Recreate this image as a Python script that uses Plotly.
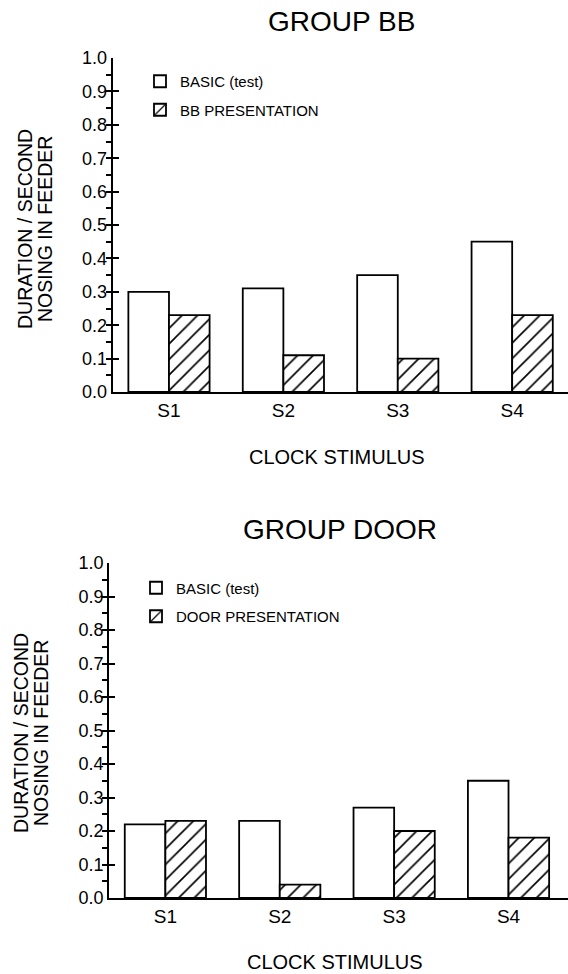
import plotly.graph_objects as go

categories = ["S1", "S2", "S3", "S4"]
bb_basic = [0.30, 0.31, 0.35, 0.45]
bb_presentation = [0.23, 0.11, 0.10, 0.23]
door_basic = [0.22, 0.23, 0.27, 0.35]
door_presentation = [0.23, 0.04, 0.20, 0.18]
y_ticks = [0.0, 0.1, 0.2, 0.3, 0.4, 0.5, 0.6, 0.7, 0.8, 0.9, 1.0]
y_ticktext = ["%.1f" % v for v in y_ticks]

W, H = 568, 974
FONT = "Liberation Sans, Arial, Helvetica, sans-serif"

fig = go.Figure()

def add_pair(basic, pres, pres_name, xa, ya, legend):
    fig.add_trace(go.Bar(
        x=categories, y=basic, name="BASIC (test)", xaxis=xa, yaxis=ya,
        marker=dict(color="white", line=dict(color="black", width=1.8)),
        legend=legend, legendgroup=legend + "a", showlegend=True,
    ))
    fig.add_trace(go.Bar(
        x=categories, y=pres, name=pres_name, xaxis=xa, yaxis=ya,
        marker=dict(color="white", line=dict(color="black", width=1.8),
                    pattern=dict(shape="/", fgcolor="black", bgcolor="white",
                                 size=11, solidity=0.15)),
        legend=legend, legendgroup=legend + "b", showlegend=True,
    ))

add_pair(bb_basic, bb_presentation, "BB PRESENTATION", "x", "y", "legend")
add_pair(door_basic, door_presentation, "DOOR PRESENTATION", "x2", "y2", "legend2")

def px_x(v):
    return v / W

def px_y(v):
    return 1 - v / H

axis_common = dict(showline=True, linecolor="black", linewidth=2, showgrid=False,
                   zeroline=False, automargin=False)

yaxis_common = dict(axis_common, range=[0, 1], tickvals=y_ticks, ticktext=y_ticktext,
                    tickfont=dict(family=FONT, size=18, color="black"),
                    ticks="inside", ticklen=6, tickwidth=1.5, tickcolor="black",
                    minor=dict(ticks="outside", dtick=0.05, ticklen=5, tickwidth=1.5,
                               tickcolor="black"))
xaxis_common = dict(axis_common, ticks="", type="category",
                    tickfont=dict(family=FONT, size=19, color="black"))

fig.update_layout(
    template="none",
    width=W, height=H,
    margin=dict(l=0, r=0, t=0, b=0, autoexpand=False),
    paper_bgcolor="white", plot_bgcolor="white",
    barmode="group", bargap=0.29, bargroupgap=0,
    font=dict(family=FONT, color="black"),
    xaxis=dict(xaxis_common, domain=[px_x(112.7), 1], range=[-0.492, 3.488], anchor="y"),
    yaxis=dict(yaxis_common, domain=[px_y(392), px_y(58)], anchor="x"),
    xaxis2=dict(xaxis_common, domain=[px_x(109.1), 1], range=[-0.492, 3.52], anchor="y2"),
    yaxis2=dict(yaxis_common, domain=[px_y(898), px_y(563)], anchor="x2"),
    legend=dict(x=px_x(140), y=px_y(65), xanchor="left", yanchor="top",
                font=dict(family=FONT, size=15, color="black"),
                traceorder="grouped", tracegroupgap=6, bgcolor="rgba(0,0,0,0)"),
    legend2=dict(x=px_x(136), y=px_y(571.5), xanchor="left", yanchor="top",
                 font=dict(family=FONT, size=15, color="black"),
                 traceorder="grouped", tracegroupgap=6, bgcolor="rgba(0,0,0,0)"),
)

annotations = [
    dict(text="GROUP BB", x=px_x(341), y=px_y(22), font=dict(size=28)),
    dict(text="GROUP DOOR", x=px_x(340), y=px_y(529), font=dict(size=28)),
    dict(text="CLOCK STIMULUS", x=px_x(337), y=px_y(457), font=dict(size=20)),
    dict(text="CLOCK STIMULUS", x=px_x(335), y=px_y(962), font=dict(size=20)),
    dict(text="DURATION / SECOND", x=px_x(25), y=px_y(229), textangle=-90, font=dict(size=19.5)),
    dict(text="NOSING IN FEEDER", x=px_x(45), y=px_y(229), textangle=-90, font=dict(size=19.5)),
    dict(text="DURATION / SECOND", x=px_x(21), y=px_y(733), textangle=-90, font=dict(size=19.5)),
    dict(text="NOSING IN FEEDER", x=px_x(41), y=px_y(733), textangle=-90, font=dict(size=19.5)),
]
for a in annotations:
    a.update(xref="paper", yref="paper", showarrow=False, xanchor="center", yanchor="middle")
    a["font"] = dict(family=FONT, color="black", size=a["font"]["size"])
fig.update_layout(annotations=annotations)

fig.write_html(
    "out.html",
    config={"displayModeBar": False},
    post_script="document.body.style.margin='0px';document.body.style.overflow='hidden';",
)
